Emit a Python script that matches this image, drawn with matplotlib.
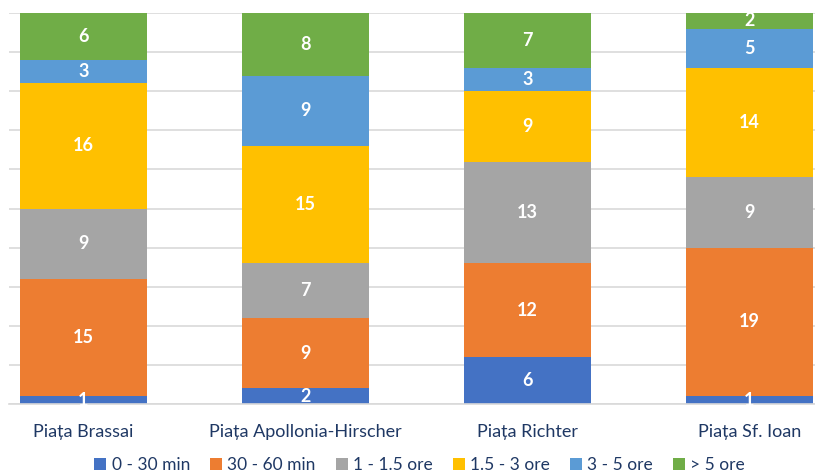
#!/usr/bin/env python3
import matplotlib.pyplot as plt
import numpy as np

# date: numar de raspunsuri pe intervale de timp, pentru fiecare piata
pieces = ["Piața Brassai", "Piața Apollonia-Hirscher", "Piața Richter", "Piața Sf. Ioan"]
series_names = ["0 - 30 min", "30 - 60 min", "1 - 1.5 ore", "1.5 - 3 ore", "3 - 5 ore", "> 5 ore"]
min_0_30 = [1, 2, 6, 1]
min_30_60 = [15, 9, 12, 19]
ore_1_15 = [9, 7, 13, 9]
ore_15_3 = [16, 15, 9, 14]
ore_3_5 = [3, 9, 3, 5]
ore_5_plus = [6, 8, 7, 2]
colors = ["#4472C4", "#ED7D31", "#A5A5A5", "#FFC000", "#5B9BD5", "#70AD47"]

NAVY = "#1F3864"
FONT = "Lato"


def draw_chart():
    values = [min_0_30, min_30_60, ore_1_15, ore_15_3, ore_3_5, ore_5_plus]
    x = np.arange(len(pieces))

    fig = plt.figure(figsize=(8.15, 4.75), dpi=100)
    # zona graficului: taiata in dreapta, ca in imaginea originala
    ax = fig.add_axes([9 / 815, 71 / 475, 806 / 815, 391 / 475])

    bottom = np.zeros(len(pieces))
    for name, vals, col in zip(series_names, values, colors):
        vals = np.array(vals, dtype=float)
        ax.bar(x, vals, width=0.572, bottom=bottom, color=col, label=name, zorder=2)
        for xi, b, v in zip(x, bottom, vals):
            ax.text(xi, b + v / 2, f"{int(v)}", ha="center", va="center",
                    color="white", fontsize=13, fontweight="bold",
                    family=FONT, zorder=3, clip_on=False)
        bottom += vals

    ax.set_ylim(0, 50)
    ax.set_xlim((9 - 83.5) / 222, (815 - 83.5) / 222)
    ax.set_yticks(range(0, 51, 5))
    ax.yaxis.grid(True, color="#D9D9D9", linewidth=1.2, zorder=0)
    ax.set_axisbelow(True)
    ax.tick_params(axis="y", left=False, labelleft=False)
    ax.tick_params(axis="x", bottom=False, pad=11)
    ax.set_xticks(x)
    ax.set_xticklabels(pieces, fontsize=13, color=NAVY, family=FONT)
    # etichetele sunt usor deplasate fata de bare in original
    for lbl, dx in zip(ax.get_xticklabels(), [-0.03, -0.01, -0.01, -0.03]):
        lbl.set_x(lbl.get_position()[0] + dx)
    for side in ["top", "left", "right"]:
        ax.spines[side].set_visible(False)
    ax.spines["bottom"].set_color("#D9D9D9")
    ax.spines["bottom"].set_linewidth(1.2)

    handles, labels = ax.get_legend_handles_labels()
    fig.legend(handles, labels, loc="center", bbox_to_anchor=(0.515, 0.021),
               ncol=6, frameon=False, handlelength=0.7, handleheight=0.7,
               handletextpad=0.3, columnspacing=1.15,
               prop={"family": FONT, "size": 12.5}, labelcolor=NAVY)

    plt.savefig("out.png", dpi=100)


if __name__ == "__main__":
    draw_chart()
